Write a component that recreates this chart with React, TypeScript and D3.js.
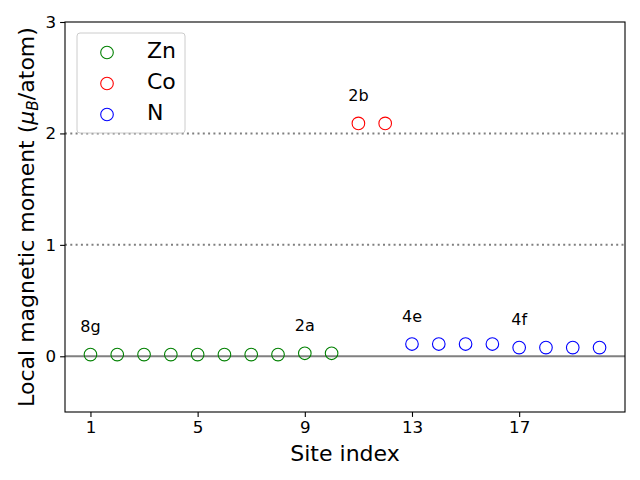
import {useEffect, useRef} from "react";
import * as d3 from "d3";

// site index / local moment (mu_B per atom)
const znSites = [1, 2, 3, 4, 5, 6, 7, 8, 9, 10];
const znMoments = [0.015, 0.015, 0.015, 0.015, 0.015, 0.015, 0.015, 0.015, 0.027, 0.027];
const coSites = [11, 12];
const coMoments = [2.09, 2.09];
const nSites = [13, 14, 15, 16, 17, 18, 19, 20];
const nMoments = [0.11, 0.11, 0.11, 0.11, 0.078, 0.078, 0.078, 0.078];

const wyckoffLabels = ["8g", "2a", "2b", "4e", "4f"];
const wyckoffX = [1, 9, 11, 13, 17];
const wyckoffY = [0.215, 0.225, 2.29, 0.31, 0.28];

const xTicks = [1, 5, 9, 13, 17];
const yTicks = [0, 1, 2, 3];
const refLines = [1, 2];

const seriesNames = ["Zn", "Co", "N"];
const seriesColors = ["green", "red", "blue"];

function App() {
    const ref = useRef<HTMLDivElement>(null);

    useEffect(() => {
        document.body.style.margin = "0";
        const W = 640, H = 480;
        const margin = {top: 22, right: 15, bottom: 68, left: 65};
        const width = W - margin.left - margin.right;
        const height = H - margin.top - margin.bottom;
        const font = "DejaVu Sans, sans-serif";

        const svg = d3.select(ref.current)
            .append("svg")
            .attr("width", W)
            .attr("height", H)
            .style("display", "block")
            .style("background", "white")
            .style("font-family", font);

        const g = svg.append("g")
            .attr("transform", `translate(${margin.left},${margin.top})`);

        const x = d3.scaleLinear().domain([0.05, 20.95]).range([0, width]);
        const y = d3.scaleLinear().domain([-0.5, 3]).range([height, 0]);

        // reference lines
        g.selectAll(".ref")
            .data(refLines)
            .enter().append("line")
            .attr("x1", 0).attr("x2", width)
            .attr("y1", d => y(d)).attr("y2", d => y(d))
            .attr("stroke", "gray")
            .attr("stroke-width", 2)
            .attr("stroke-dasharray", "2,3.3");

        g.append("line")
            .attr("x1", 0).attr("x2", width)
            .attr("y1", y(0)).attr("y2", y(0))
            .attr("stroke", "gray")
            .attr("stroke-width", 2);

        // points
        const series = [
            {sites: znSites, vals: znMoments},
            {sites: coSites, vals: coMoments},
            {sites: nSites, vals: nMoments},
        ];
        series.forEach((s, k) => {
            g.selectAll(".pt" + k)
                .data(s.sites)
                .enter().append("circle")
                .attr("cx", d => x(d))
                .attr("cy", (d, i) => y(s.vals[i]))
                .attr("r", 6.3)
                .attr("fill", "none")
                .attr("stroke", seriesColors[k])
                .attr("stroke-width", 1.1);
        });

        // wyckoff annotations
        g.selectAll(".lbl")
            .data(wyckoffLabels)
            .enter().append("text")
            .attr("x", (d, i) => x(wyckoffX[i]))
            .attr("y", (d, i) => y(wyckoffY[i]))
            .attr("text-anchor", "middle")
            .attr("font-size", 16)
            .text(d => d);

        // axes
        const xAxis = g.append("g")
            .attr("transform", `translate(0,${height})`)
            .call(d3.axisBottom(x).tickValues(xTicks).tickSize(4.9).tickPadding(4).tickSizeOuter(0).tickFormat(d3.format("d")));
        const yAxis = g.append("g")
            .call(d3.axisLeft(y).tickValues(yTicks).tickSize(4.9).tickPadding(4).tickSizeOuter(0).tickFormat(d3.format("d")));
        [xAxis, yAxis].forEach(a => {
            a.select(".domain").remove();
            a.selectAll("line").attr("stroke", "black").attr("stroke-width", 1.1);
            a.selectAll("text").attr("font-size", 16.7).attr("font-family", font).attr("fill", "black");
        });

        // frame
        g.append("rect")
            .attr("width", width).attr("height", height)
            .attr("fill", "none")
            .attr("stroke", "black")
            .attr("stroke-width", 1.1);

        // axis labels
        svg.append("text")
            .attr("x", margin.left + width / 2)
            .attr("y", 461)
            .attr("text-anchor", "middle")
            .attr("font-size", 22)
            .text("Site index");

        const yl = svg.append("text")
            .attr("transform", `translate(34,${margin.top + height / 2}) rotate(-90)`)
            .attr("text-anchor", "middle")
            .attr("font-size", 22);
        yl.append("tspan").text("Local magnetic moment (");
        yl.append("tspan").attr("font-style", "italic").text("μ");
        yl.append("tspan").attr("font-style", "italic").attr("font-size", 15.4).attr("dy", 4).text("B");
        yl.append("tspan").attr("dy", -4).text("/atom)");

        // legend
        const lg = svg.append("g").attr("transform", "translate(77,33)");
        lg.append("rect")
            .attr("width", 108).attr("height", 100)
            .attr("rx", 3)
            .attr("fill", "white").attr("fill-opacity", 0.8)
            .attr("stroke", "#cccccc");
        seriesNames.forEach((name, i) => {
            const cy = 19.5 + i * 31;
            lg.append("circle")
                .attr("cx", 30).attr("cy", cy).attr("r", 6.3)
                .attr("fill", "none")
                .attr("stroke", seriesColors[i])
                .attr("stroke-width", 1.1);
            lg.append("text")
                .attr("x", 70).attr("y", cy + 5.5)
                .attr("font-size", 22)
                .text(name);
        });

        return () => {
            ref.current?.querySelector("svg")?.remove();
        };
    }, []);

    return <div ref={ref}></div>;
}

export default App;
